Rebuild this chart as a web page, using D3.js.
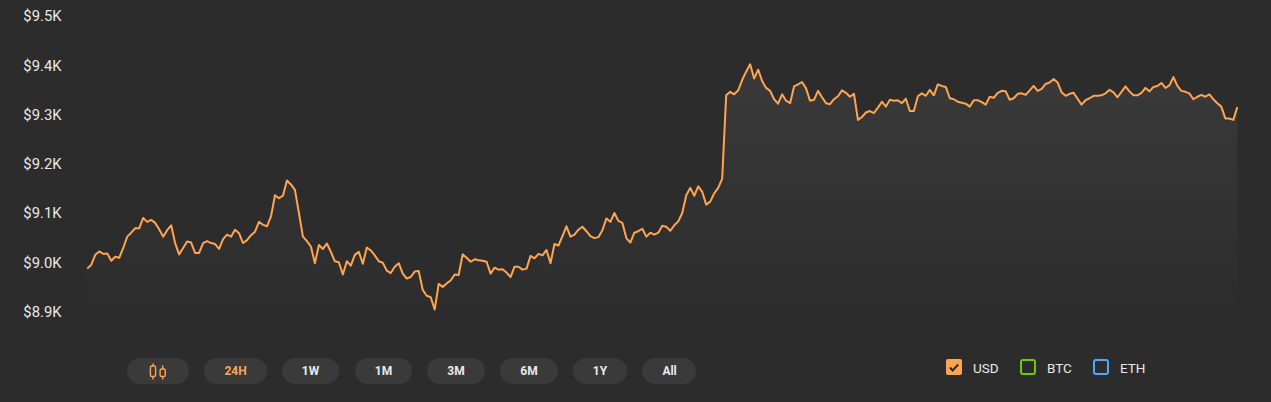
<!DOCTYPE html>
<html><head><meta charset="utf-8">
<script src="https://cdnjs.cloudflare.com/ajax/libs/d3/7.8.5/d3.min.js"></script>
<style>
html,body{margin:0;padding:0;background:#2c2c2c;overflow:hidden}
svg{display:block;font-family:Roboto,sans-serif}
</style></head><body><svg id="c" width="1271" height="402"></svg>
<script>
const yTicks=[8900,9000,9100,9200,9300,9400,9500];
const usd=[8987,8995,9015,9022,9017,9018,9003,9011,9009,9029,9052,9060,9069,9069,9090,9082,9086,9080,9067,9052,9065,9075,9039,9016,9029,9042,9040,9019,9019,9039,9043,9039,9037,9027,9047,9056,9052,9066,9059,9039,9045,9055,9062,9082,9076,9073,9093,9136,9130,9135,9166,9158,9147,9100,9052,9043,9032,8998,9035,9027,9038,9021,9002,9000,8975,9002,8993,9015,9021,8997,9030,9024,9014,9002,8999,8983,8978,8991,8998,8977,8967,8970,8981,8982,
8944,8932,8929,8904,8956,8950,8957,8963,8975,8974,9016,9009,9001,9006,9004,9003,9001,8977,8989,8985,8986,8979,8970,8991,8991,8985,8987,9013,9008,9017,9014,9025,8998,9037,9034,9053,9073,9052,9056,9066,9072,9063,9053,9049,9051,9065,9089,9082,9100,9084,9080,9049,9040,9060,9063,9068,9052,9060,9056,9060,9074,9072,9064,9075,9083,9100,9136,9151,9135,9154,9143,9117,9123,9140,9151,9170,
9339,9346,9341,9349,9370,9387,9402,9373,9391,9368,9354,9348,9331,9322,9341,9328,9323,9357,9361,9366,9353,9328,9330,9348,9335,9323,9321,9331,9337,9349,9344,9336,9342,9289,9295,9304,9307,9303,9314,9326,9316,9330,9328,9329,9323,9332,9307,9307,9337,9343,9338,9350,9339,9361,9358,9356,9333,9331,9326,9324,9322,9316,9329,9329,9325,9320,9336,9334,9344,
9348,9347,9330,9333,9342,9343,9340,9349,9358,9348,9352,9362,9365,9372,9365,9345,9338,9342,9344,9332,9320,9329,9333,9338,9338,9339,9343,9350,9345,9335,9346,9357,9347,9339,9339,9344,9354,9347,9356,9358,9364,9354,9359,9376,9358,9348,9346,9343,9331,9336,9340,9336,9341,9331,9323,9316,9292,9292,9289,9315];
const ranges=["24H","1W","1M","3M","6M","1Y","All"];
const activeRange="24H";
const currencies=["USD","BTC","ETH"];
const selectedCurrency="USD";

// layout & style
const ORANGE="#ffa552", TXT="#e9e9e9", PILL="#3a3a3a", BG="#2c2c2c";
const pillX=[204,282,355,427,500,573,642], pillW=[63,57,57,58,58,54,54];
const boxX=[946,1020,1093], boxColor=["#ffa552","#6fcb00","#4fa8ff"];
const svg=d3.select("#c");
const x=d3.scaleLinear().domain([0,usd.length-1]).range([87.3,1237.3]);
const y=d3.scaleLinear().domain([8900,9500]).range([311.5,16]);
const defs=svg.append("defs");
const g=defs.append("linearGradient").attr("id","ag").attr("gradientUnits","userSpaceOnUse")
  .attr("x1",0).attr("x2",0).attr("y1",y(d3.max(usd))).attr("y2",312);
g.append("stop").attr("offset",0).attr("stop-color","#3a3a3a");
g.append("stop").attr("offset",1).attr("stop-color",BG);
svg.append("path").datum(usd).attr("fill","url(#ag)")
  .attr("d",d3.area().x((d,i)=>x(i)).y0(312).y1(d=>y(d)));
svg.append("path").datum(usd).attr("fill","none").attr("stroke",ORANGE).attr("stroke-width",2)
  .attr("stroke-linejoin","round").attr("d",d3.line().x((d,i)=>x(i)).y(d=>y(d)));

const ax=svg.append("g").attr("transform","translate(61.5,0.2)")
  .call(d3.axisLeft(y).tickValues(yTicks).tickSize(0).tickPadding(0).tickFormat(d=>"$"+d3.format(".1f")(d/1000)+"K"));
ax.select(".domain").remove();
ax.selectAll("text").attr("fill",TXT).attr("font-size",14.8).attr("font-family","Roboto,sans-serif");

// candlestick toggle
const icon=svg.append("g");
icon.append("rect").attr("x",127).attr("y",358).attr("width",62).attr("height",26).attr("rx",13).attr("fill",PILL);
[[153,363.5,379.5,366,376.5],[162.7,365.5,379.5,369,376.5]].forEach(([cx,t,b,r0,r1])=>{
  icon.append("line").attr("x1",cx).attr("x2",cx).attr("y1",t).attr("y2",b).attr("stroke",ORANGE).attr("stroke-width",1.4);
  icon.append("rect").attr("x",cx-2.6).attr("y",r0).attr("width",5.2).attr("height",r1-r0).attr("rx",1.5)
    .attr("fill",PILL).attr("stroke",ORANGE).attr("stroke-width",1.4);
});

const btn=svg.append("g").selectAll("g").data(ranges).join("g");
btn.append("rect").attr("x",(d,i)=>pillX[i]).attr("y",358).attr("width",(d,i)=>pillW[i]).attr("height",26).attr("rx",13).attr("fill",PILL);
btn.append("text").attr("x",(d,i)=>pillX[i]+pillW[i]/2+(d==="All"?0.6:0)).attr("y",374.5).attr("text-anchor","middle")
  .attr("font-size",12).attr("font-weight",700).attr("fill",d=>d===activeRange?ORANGE:TXT).text(d=>d);

const leg=svg.append("g").selectAll("g").data(currencies).join("g");
leg.append("rect").attr("x",(d,i)=>boxX[i]+(d===selectedCurrency?0:1)).attr("y",d=>d===selectedCurrency?359:360)
  .attr("width",d=>d===selectedCurrency?16:14).attr("height",d=>d===selectedCurrency?16:14).attr("rx",2)
  .attr("fill",(d,i)=>d===selectedCurrency?boxColor[i]:"none")
  .attr("stroke",(d,i)=>d===selectedCurrency?"none":boxColor[i]).attr("stroke-width",2);
leg.filter(d=>d===selectedCurrency).append("path")
  .attr("d",()=>"M950 367.5l2.6 3l5.6-6").attr("fill","none").attr("stroke",BG).attr("stroke-width",2);
leg.append("text").attr("x",(d,i)=>boxX[i]+27).attr("y",372.5).attr("font-size",13.5).attr("fill",TXT).text(d=>d);
</script></body></html>
